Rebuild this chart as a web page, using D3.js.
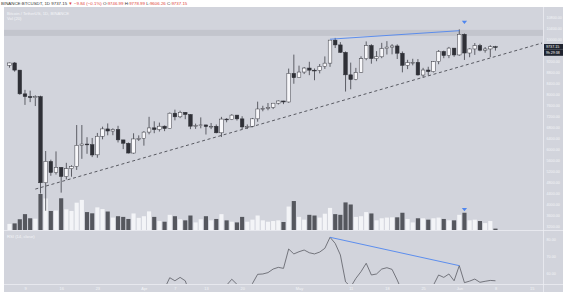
<!DOCTYPE html>
<html>
<head>
<meta charset="utf-8">
<script src="https://cdn.jsdelivr.net/npm/d3@7"></script>
<style>
  body { margin: 0; background: #fff; }
  svg { display: block; font-family: "Liberation Sans", Arial, sans-serif; }
</style>
</head>
<body>
<div id="chart"></div>
<script>
// daily candles BINANCE:BTCUSDT, 6 Mar 2020 -> 8 Jun 2020
let firstDay = "2020-03-06";
let lastDay = "2020-06-08";

let opens = [
  9071, 9157, 8897, 8033, 7936, 7894, 7934, 4800, 5576, 5172, 5361, 5028, 5312, 5392, 6162, 6208, 6186, 5816, 6492, 6758, 6680, 6737, 6359, 6236, 5881, 6395,
  6412, 6643, 6797, 6735, 6858, 6772, 7330, 7198, 7361, 7284, 6859, 6876, 6904, 6843, 6855, 6617, 7116, 7097, 7260, 7124, 6831, 6842, 7125, 7483, 7506, 7539, 7694, 7774, 7738, 8778,
  8620, 8826, 8972, 8894, 8885, 9031, 9150, 9987, 9813, 9542, 8725, 8555, 8810, 9310, 9792, 9315, 9381, 9680, 9733, 9775, 9511, 9068, 9170, 9179, 8718, 8900, 8841, 9204, 9575, 9427, 9697,
  9448, 10200, 9518, 9666, 9788, 9621, 9666, 9746.99
];
let highs = [
  9167, 9188, 8898, 8179, 8150, 7980, 7966, 5955, 5640, 5940, 5365, 5525, 5436, 6900, 6900, 6457, 6429, 6612, 6840, 6957, 6780, 6871, 6360, 6266, 6599, 6523,
  6679, 7198, 7035, 6988, 6883, 7355, 7459, 7420, 7371, 7298, 6950, 7177, 6904, 6974, 6920, 7196, 7148, 7294, 7267, 7220, 6920, 7156, 7750, 7600, 7700, 7700, 7795, 7780, 8952, 9460,
  9059, 9010, 9200, 8955, 9118, 9395, 9990, 10067, 9914, 9574, 9169, 8978, 9398, 9939, 9840, 9588, 9888, 9950, 9842, 9834, 9574, 9271, 9308, 9298, 8979, 9018, 9225, 9625, 9605, 9740, 9700,
  10380, 10228, 9690, 9881, 9854, 9735, 9802, 9778.99
];
let lows = [
  8985, 8840, 8000, 7632, 7733, 7590, 4410, 3782, 5055, 5100, 4442, 4921, 5020, 5268, 5670, 5853, 5734, 5710, 6380, 6526, 6530, 6266, 6024, 5866, 5858, 6321,
  6150, 6561, 6603, 6663, 6677, 6765, 7070, 7150, 7111, 6750, 6760, 6780, 6555, 6751, 6600, 6463, 7000, 7080, 7063, 6751, 6760, 6818, 7020, 7400, 7436, 7480, 7645, 7660, 7710, 8401,
  8613, 8753, 8712, 8528, 8777, 8940, 9015, 9700, 9520, 8117, 8200, 8528, 8794, 9256, 9130, 9220, 9330, 9464, 9470, 9300, 8815, 8933, 9070, 8700, 8632, 8700, 8811, 9110, 9330, 9331, 9381,
  9416, 9266, 9365, 9450, 9581, 9531, 9372, 9606.26
];
let closes = [
  9157, 8897, 8034, 7935, 7895, 7935, 4800, 5578, 5172, 5361, 5028, 5312, 5392, 6162, 6208, 6186, 5810, 6492, 6758, 6682, 6737, 6360, 6237, 5881, 6394, 6410,
  6642, 6794, 6734, 6857, 6772, 7330, 7198, 7361, 7283, 6858, 6876, 6903, 6843, 6855, 6617, 7116, 7097, 7260, 7124, 6830, 6842, 7125, 7483, 7506, 7539, 7694, 7774, 7738, 8778, 8620,
  8826, 8972, 8895, 8885, 9031, 9150, 9987, 9813, 9542, 8725, 8555, 8811, 9310, 9792, 9316, 9381, 9680, 9733, 9775, 9511, 9068, 9170, 9179, 8720, 8900, 8842, 9204, 9575, 9427, 9697, 9448,
  10200, 9518, 9666, 9789, 9621, 9666, 9746, 9737.15
];
// volume, thousands of BTC
let volumes = [
  44, 48, 78, 115, 85, 82, 261, 229, 138, 141, 230, 150, 138, 198, 218, 130, 121, 164, 152, 134, 90, 100, 95, 80, 120, 88,
  100, 135, 95, 65, 60, 110, 100, 78, 70, 105, 55, 78, 100, 70, 80, 115, 70, 60, 55, 95, 60, 75, 105, 70, 60, 65, 70, 58, 170, 210,
  95, 75, 110, 105, 90, 118, 160, 115, 110, 200, 185, 95, 100, 130, 120, 70, 85, 90, 92, 92, 125, 80, 55, 85, 85, 75, 85, 90, 80, 70, 70,
  110, 125, 70, 75, 65, 50, 65, 10
];
// RSI(14, close)
let rsiValues = [
  50, 45, 36, 34, 33, 34, 17, 33, 30, 33, 30, 33, 34, 43, 44, 43, 40, 46, 48, 47, 48, 45, 44, 41, 47, 47,
  50, 51, 50, 52, 51, 57.4, 55.6, 57.6, 55.6, 47, 48, 49, 48, 48.5, 46, 53, 53, 56.5, 53.5, 48, 49, 54, 59.4, 59.6, 60.4, 62.5, 63.5, 62.9, 74.3, 71.4,
  72.7, 73.7, 72.1, 71.4, 72.5, 74.7, 81.2, 77.6, 70.8, 55, 52, 57, 61, 65.9, 59, 59.6, 62.5, 63.3, 62.3, 56, 49, 51, 51.5, 44, 48, 47, 53, 59, 57.6, 59.6, 55.6,
  64.5, 54.5, 55.4, 56.6, 54.7, 55.3, 55.8, 55.6
];

let priceTicks = [3200, 3600, 4000, 4400, 4800, 5200, 5600, 6000, 6400, 6800, 7200, 7600, 8000, 8400, 8800, 9200, 9600, 10000, 10400, 10800];
let rsiTicks = [60, 70, 80];
let timeTicks = [
  ["2020-03-09", "9"], ["2020-03-16", "16"], ["2020-03-23", "23"], ["2020-04-01", "Apr"], ["2020-04-07", "7"],
  ["2020-04-13", "13"], ["2020-04-20", "20"], ["2020-05-01", "May"], ["2020-05-11", "11"], ["2020-05-18", "18"],
  ["2020-05-25", "25"], ["2020-06-01", "Jun"], ["2020-06-08", "8"], ["2020-06-15", "15"]
];

// drawings
let trendLine = [["2020-03-11", 4570], ["2020-06-17", 9880]];
let priceDivergence = [["2020-05-07", 10020], ["2020-06-01", 10330]];
let rsiDivergence = [["2020-05-07", 81.2], ["2020-06-01", 64.5]];
let resistanceZone = [10140, 10360];
let arrowDay = "2020-06-02";

let parse = d3.utcParse("%Y-%m-%d");
let days = d3.utcDay.range(parse(firstDay), d3.utcDay.offset(parse(lastDay), 1));
let candles = days.map((d, i) => ({
  date: d, open: opens[i], high: highs[i], low: lows[i], close: closes[i],
  volume: volumes[i], rsi: rsiValues[i]
}));

const width = 566, height = 293;
const pane = {left: 4, right: 543, top: 7, priceBottom: 230, rsiTop: 231, rsiBottom: 284, edge: 563};
const bg = "#d2d4dc", lightText = "#f4f5f8", darkC = "#2f3037", wickC = "#3f4047", blue = "#4f86ef";

let svg = d3.select("#chart").append("svg")
  .attr("width", width)
  .attr("height", height);

svg.append("rect").attr("width", width).attr("height", height).attr("fill", "#fff");
svg.append("rect")
  .attr("x", pane.left).attr("y", pane.top)
  .attr("width", pane.edge - pane.left).attr("height", 292 - pane.top)
  .attr("fill", bg);

// scales
let x = d3.scaleUtc()
  .domain([parse("2020-03-05"), parse("2020-06-17")])
  .range([4.3, 542]);
let step = x(days[1]) - x(days[0]);

let y = d3.scaleLinear()
  .domain([3082.5, 11191.5])
  .range([pane.priceBottom, pane.top]);

let yVol = d3.scaleLinear()
  .domain([0, d3.max(volumes)])
  .range([pane.priceBottom, 194]);

let yRsi = d3.scaleLinear()
  .domain([53.7, 84.9])
  .range([pane.rsiBottom, pane.rsiTop]);

let defs = svg.append("defs");
defs.append("clipPath").attr("id", "clipPrice").append("rect")
  .attr("x", pane.left).attr("y", pane.top)
  .attr("width", pane.right - pane.left).attr("height", pane.priceBottom - pane.top);
defs.append("clipPath").attr("id", "clipRsi").append("rect")
  .attr("x", pane.left).attr("y", pane.rsiTop)
  .attr("width", pane.right - pane.left).attr("height", pane.rsiBottom - pane.rsiTop);

// resistance zone
svg.append("rect")
  .attr("x", pane.left).attr("width", pane.right - pane.left)
  .attr("y", y(resistanceZone[1]))
  .attr("height", y(resistanceZone[0]) - y(resistanceZone[1]))
  .attr("fill", "#c3c5cd");

let price = svg.append("g").attr("clip-path", "url(#clipPrice)");

// volume bars
price.append("g").selectAll("rect")
  .data(candles)
  .enter().append("rect")
    .attr("x", d => x(d.date) - step * 0.4)
    .attr("width", step * 0.8)
    .attr("y", d => yVol(d.volume))
    .attr("height", d => yVol(0) - yVol(d.volume))
    .attr("fill", d => d.close >= d.open ? "#f3f4f7" : "#55575e");

// candles
let candle = price.append("g").selectAll("g")
  .data(candles)
  .enter().append("g");

candle.append("line")
  .attr("x1", d => x(d.date)).attr("x2", d => x(d.date))
  .attr("y1", d => y(d.high)).attr("y2", d => y(d.low))
  .attr("stroke", wickC).attr("stroke-width", 0.8);

candle.append("rect")
  .attr("x", d => x(d.date) - step * 0.35)
  .attr("width", step * 0.7)
  .attr("y", d => y(Math.max(d.open, d.close)))
  .attr("height", d => Math.max(0.8, Math.abs(y(d.open) - y(d.close))))
  .attr("fill", d => d.close >= d.open ? "#f7f7fa" : darkC)
  .attr("stroke", d => d.close >= d.open ? "#3a3b42" : darkC)
  .attr("stroke-width", 0.5);

// dashed support line
price.append("line")
  .attr("x1", x(parse(trendLine[0][0]))).attr("y1", y(trendLine[0][1]))
  .attr("x2", x(parse(trendLine[1][0]))).attr("y2", y(trendLine[1][1]))
  .attr("stroke", "#4a4b52").attr("stroke-width", 0.9)
  .attr("stroke-dasharray", "3,2.6");

// divergence on price
price.append("line")
  .attr("x1", x(parse(priceDivergence[0][0]))).attr("y1", y(priceDivergence[0][1]))
  .attr("x2", x(parse(priceDivergence[1][0]))).attr("y2", y(priceDivergence[1][1]))
  .attr("stroke", blue).attr("stroke-width", 0.9);

// arrows over the top candle and its volume bar
let ax = x(parse(arrowDay));
let tri = (cx, cy) => `M${cx - 2.6},${cy - 2.2}L${cx + 2.6},${cy - 2.2}L${cx},${cy + 1}Z`;
svg.append("path").attr("d", tri(ax, 23)).attr("fill", blue);
let arrowCandle = candles.find(d => +d.date === +parse(arrowDay));
svg.append("path").attr("d", tri(ax, yVol(arrowCandle.volume) - 2.5)).attr("fill", blue);

// pane separators
svg.append("line").attr("x1", pane.left).attr("x2", pane.edge)
  .attr("y1", pane.priceBottom + 0.5).attr("y2", pane.priceBottom + 0.5)
  .attr("stroke", "#eceef2").attr("stroke-width", 0.8);
svg.append("line").attr("x1", pane.left).attr("x2", pane.edge)
  .attr("y1", pane.rsiBottom + 0.5).attr("y2", pane.rsiBottom + 0.5)
  .attr("stroke", "#eceef2").attr("stroke-width", 0.8);
svg.append("line").attr("x1", pane.right + 0.5).attr("x2", pane.right + 0.5)
  .attr("y1", pane.top).attr("y2", 292)
  .attr("stroke", "#eceef2").attr("stroke-width", 0.8);

// RSI line
let rsiLine = d3.line()
  .x(d => x(d.date))
  .y(d => yRsi(d.rsi));
let rsiG = svg.append("g").attr("clip-path", "url(#clipRsi)");
rsiG.append("path")
  .datum(candles)
  .attr("d", rsiLine)
  .attr("fill", "none")
  .attr("stroke", "#5b5c63")
  .attr("stroke-width", 0.8);
rsiG.append("line")
  .attr("x1", x(parse(rsiDivergence[0][0]))).attr("y1", yRsi(rsiDivergence[0][1]))
  .attr("x2", x(parse(rsiDivergence[1][0]))).attr("y2", yRsi(rsiDivergence[1][1]))
  .attr("stroke", blue).attr("stroke-width", 0.9);

// last price, the axis label under its box is hidden like the app does
let lastClose = closes[closes.length - 1];
let lastY = y(lastClose);
let visibleTicks = priceTicks.filter(t => y(t) < lastY - 4 || y(t) > lastY + 10);

// price axis
let yAxis = d3.axisRight(y).tickValues(visibleTicks).tickSize(0).tickPadding(3.5)
  .tickFormat(d3.format(".2f"));
let yAxisG = svg.append("g").attr("transform", `translate(${pane.right},0)`).call(yAxis);
yAxisG.select(".domain").remove();
yAxisG.selectAll("text").attr("fill", lightText).attr("font-size", 3.7);

let rAxis = d3.axisRight(yRsi).tickValues(rsiTicks).tickSize(0).tickPadding(3.5)
  .tickFormat(d3.format(".2f"));
let rAxisG = svg.append("g").attr("transform", `translate(${pane.right},0)`).call(rAxis);
rAxisG.select(".domain").remove();
rAxisG.selectAll("text").attr("fill", lightText).attr("font-size", 3.7);

// time axis
let xAxis = d3.axisBottom(x)
  .tickValues(timeTicks.map(t => parse(t[0])))
  .tickFormat((d, i) => timeTicks[i][1])
  .tickSize(0).tickPadding(3);
let xAxisG = svg.append("g").attr("transform", `translate(0,${pane.rsiBottom})`).call(xAxis);
xAxisG.select(".domain").remove();
xAxisG.selectAll("text").attr("fill", lightText).attr("font-size", 3.9);

// last price boxes
svg.append("rect").attr("x", pane.right + 1).attr("y", lastY - 3)
  .attr("width", 19).attr("height", 5.8).attr("fill", "#1f2430");
svg.append("text").attr("x", pane.right + 3).attr("y", lastY + 1.3)
  .attr("font-size", 3.7).attr("fill", "#fff").text(d3.format(".2f")(lastClose));
svg.append("rect").attr("x", pane.right + 1).attr("y", lastY + 3)
  .attr("width", 19).attr("height", 5.8).attr("fill", "#1f2430");
svg.append("text").attr("x", pane.right + 3).attr("y", lastY + 7.3)
  .attr("font-size", 3.5).attr("fill", "#fff").text("9h 29:38");

// legends
svg.append("text").attr("x", 7).attr("y", 15).attr("font-size", 4.2).attr("fill", lightText)
  .text("Bitcoin / TetherUS, 1D, BINANCE");
svg.append("text").attr("x", 7).attr("y", 20).attr("font-size", 4.2).attr("fill", lightText)
  .text("Vol (20)");
svg.append("text").attr("x", 7).attr("y", 237.5).attr("font-size", 4.2).attr("fill", lightText)
  .text("RSI (14, close)");

// header
let header = svg.append("text").attr("x", 1).attr("y", 4.6).attr("font-size", 4.4).attr("fill", "#333");
header.append("tspan").text("BINANCE:BTCUSDT, 1D  9737.15 ");
header.append("tspan").attr("fill", "#e0443c").text("▼ −9.84 (−0.1%) ");
header.append("tspan").text(" O:");
header.append("tspan").attr("fill", "#e0443c").text("9746.99");
header.append("tspan").text("  H:");
header.append("tspan").attr("fill", "#e0443c").text("9778.99");
header.append("tspan").text("  L:");
header.append("tspan").attr("fill", "#e0443c").text("9606.26");
header.append("tspan").text("  C:");
header.append("tspan").attr("fill", "#e0443c").text("9737.15");
</script>
</body>
</html>
